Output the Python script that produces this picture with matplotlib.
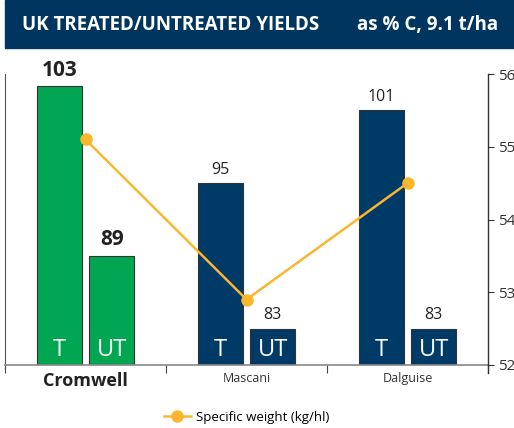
import matplotlib.pyplot as plt
from matplotlib.patches import Rectangle
from matplotlib.lines import Line2D

# data
varieties = ["Cromwell", "Mascani", "Dalguise"]
treated = [103, 95, 101]
untreated = [89, 83, 83]
spec_weight = [55.1, 52.9, 54.5]
bar_labels = ["T", "UT"]

GREEN = "#00a651"
NAVY = "#003a67"
HEADER = "#00355f"
YELLOW = "#fbb630"

plt.rcParams['font.family'] = ['Open Sans', 'DejaVu Sans']

fig = plt.figure(figsize=(5.14, 4.28), dpi=100)

# header band
fig.patches.append(Rectangle((5 / 514, 1 - 48 / 428), 1, 48 / 428,
                             transform=fig.transFigure, color=HEADER, zorder=0))
fig.text(22 / 514, 1 - 25 / 428, "UK TREATED/UNTREATED YIELDS", color="white",
         fontsize=13.5, fontweight="bold", va="center", ha="left")
fig.text(498 / 514, 1 - 25 / 428, "as % C, 9.1 t/ha", color="white",
         fontsize=13.5, fontweight="bold", va="center", ha="right")

ax = fig.add_axes([5 / 514, 63 / 428, 483 / 514, 291 / 428])
ax.set_ylim(80, 104)
ax.set_xlim(-0.5, 2.5)

x = range(len(varieties))
width = 0.28
off = 0.163
colors = [GREEN, NAVY, NAVY]

for i in x:
    for j, (vals, dx) in enumerate([(treated, -off), (untreated, off)]):
        v = vals[i]
        ax.bar(i + dx, v - 80, bottom=80, width=width, color=colors[i],
               edgecolor="#333333", linewidth=0.8, zorder=2)
        bold = i == 0
        ax.annotate(str(v), (i + dx, v), xytext=(0, 4), textcoords="offset points",
                    ha="center", va="bottom",
                    fontsize=15 if bold else 11.5,
                    fontweight="bold" if bold else "normal", color="#222222")
        ax.annotate(bar_labels[j], (i + dx, 80), xytext=(0, 6.5),
                    textcoords="offset points", ha="center", va="baseline",
                    fontsize=17, color="white", zorder=3)

ax.set_yticks([])
ax.spines["top"].set_visible(False)
ax.spines["right"].set_visible(False)
ax.spines["left"].set_color("#555555")
ax.spines["bottom"].set_color("#888888")
ax.spines["bottom"].set_linewidth(1.2)

ax.set_xticks([-0.5, 0.5, 1.5, 2.5])
ax.set_xticklabels([])
ax.tick_params(axis="x", which="major", direction="out", length=6,
               color="#444444")
ax.set_xticks(list(x), minor=True)
ax.set_xticklabels(varieties, minor=True)
ax.tick_params(axis="x", which="minor", length=0, pad=5, labelsize=9,
               labelcolor="#333333")
for k, lab in enumerate(ax.get_xticklabels(minor=True)):
    if k == 0:
        lab.set_fontsize(13)
        lab.set_fontweight("bold")
        lab.set_color("#222222")

ax2 = ax.twinx()
ax2.set_ylim(52, 56)
ax2.set_yticks([52, 53, 54, 55, 56])
ax2.plot(list(x), spec_weight, color=YELLOW, linewidth=1.8, marker="o",
         markersize=8, zorder=4, label="Specific weight (kg/hl)")
for s in ["top", "left", "bottom"]:
    ax2.spines[s].set_visible(False)
ax2.spines["right"].set_color("#333333")
ax2.spines["right"].set_linewidth(1)
ax2.tick_params(axis="y", direction="out", length=4, pad=3, labelsize=11,
                color="#333333", labelcolor="#333333")
ax2.add_line(Line2D([1, 1], [0, -0.028], transform=ax2.transAxes,
                    color="#333333", linewidth=1, clip_on=False))

fig.legend(loc="center", bbox_to_anchor=(0.48, 1 - 417 / 428), frameon=False,
           fontsize=9.5, handlelength=2.0, handletextpad=0.4)

fig.savefig("out.png", dpi=100)
